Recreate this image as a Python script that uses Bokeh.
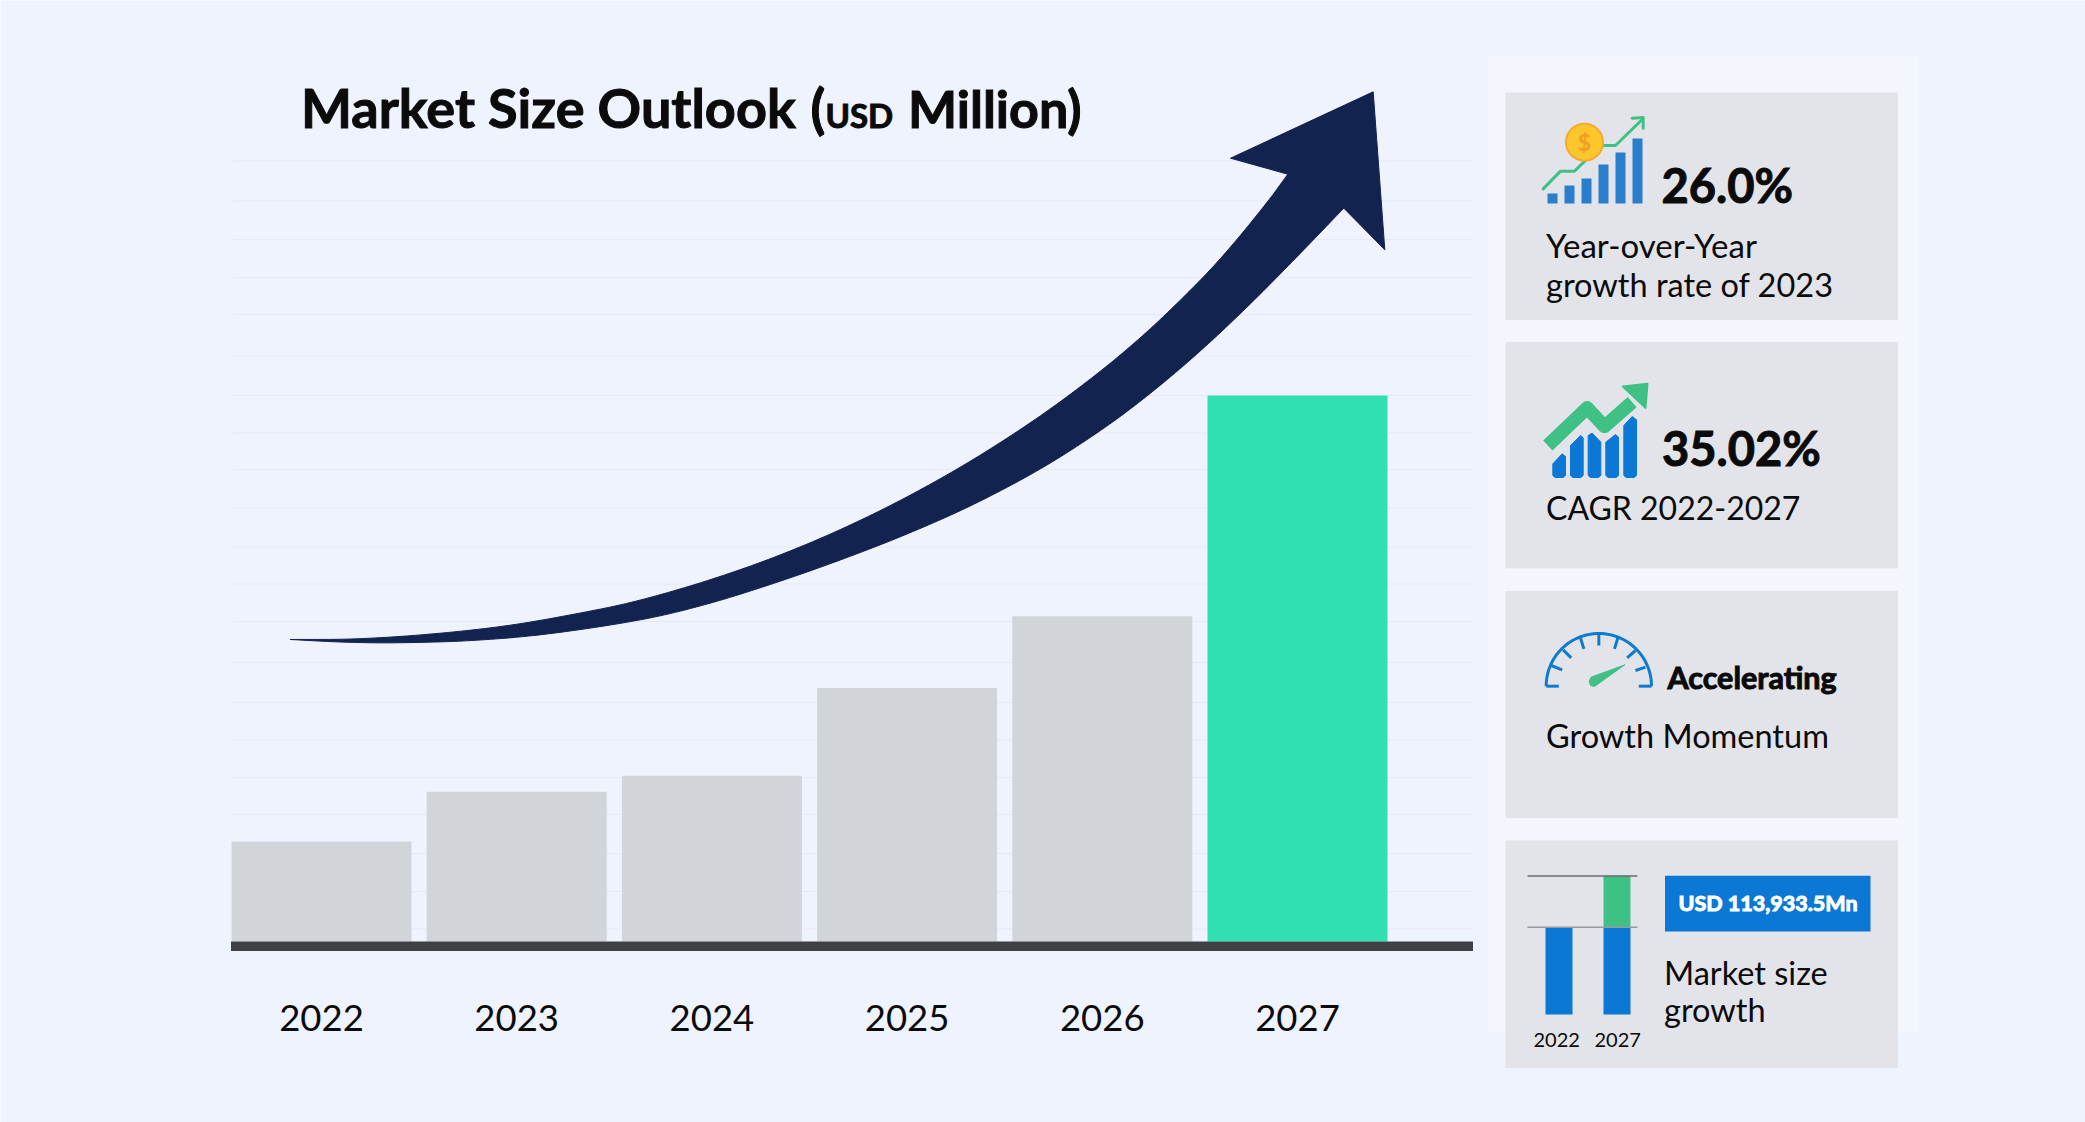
import numpy as np
from numpy.polynomial import Polynomial
from bokeh.plotting import figure
from bokeh.embed import file_html
from bokeh.resources import INLINE
from bokeh.core.properties import value
from bokeh.models import Range1d, LinearAxis, FixedTicker, BasicTickFormatter, Text

# ---- data ----
years = [2022, 2023, 2024, 2025, 2026, 2027]
market_size_usd_mn = [25546, 38270, 42350, 64760, 83100, 139480]
bar_colors = ["#d1d5da"] * 5 + ["#30e0b2"]
grid_rows = [160.5, 200.5, 239, 277, 314, 355.5, 395, 432.5, 469, 507.5, 546.5,
             583.5, 621, 662, 702, 739.5, 777, 814, 853, 891, 928.5]

# arrow outline
upper_x = [289.6, 356.5, 433, 509.6, 586, 640, 706.7, 773.3, 840, 906.7, 973.3, 1040, 1100, 1150, 1200, 1233.3, 1266.7, 1287.3]
upper_y = [639, 638.3, 633.3, 624.7, 611.3, 599.3, 580.7, 556.7, 528.3, 496.7, 458.3, 416.5, 370, 326.7, 280, 243.3, 201.7, 173.3]
lower_x = [1343.3, 1300, 1250, 1200, 1150, 1100, 1040, 973.3, 906.7, 840, 773.3, 706.7, 640, 548, 471.3, 394.8, 340, 289.6]
lower_y = [207.3, 253.3, 303.3, 350, 391.7, 430, 470, 503, 533, 559.3, 583.3, 603.3, 619.3, 633.3, 640, 642.3, 641.5, 639]
head_x = [1230, 1372.7, 1384.3]
head_y = [157.7, 91.3, 249.3]

W, H = 2085, 1122
BG, PANEL, CARD = "#eff3fe", "#f4f6fd", "#e2e4e9"
BLUE, GREEN = "#0a78d4", "#3fc084"
FONT = "Lato"
BASE_FIX = 0.365  # Bokeh's svg text sits below the requested baseline
HAS_OUTLINE = "text_outline_color" in Text.properties()

# one frame covering the whole canvas; default ranges are reference pixels
p = figure(width=W, height=H, output_backend="svg", toolbar_location=None,
           x_range=Range1d(0, W), y_range=Range1d(H, 0),
           min_border=0, background_fill_color=BG, border_fill_color=BG,
           outline_line_color=None)
p.xaxis.visible = False
p.yaxis.visible = False
p.xgrid.visible = False
p.ygrid.visible = False

# data scales of the main chart
PX_PER_YEAR, X_2027 = 195.2, 1297
USD_PER_PX, Y_ZERO = 255.46, 941
p.extra_x_ranges["years"] = Range1d(2027 - X_2027 / PX_PER_YEAR, 2027 + (W - X_2027) / PX_PER_YEAR)
p.extra_y_ranges["usd"] = Range1d((Y_ZERO - H) * USD_PER_PX, Y_ZERO * USD_PER_PX)


def rect(x0, x1, y0, y1, color):
    p.quad(left=[x0], right=[x1], top=[y0], bottom=[y1], fill_color=color, line_color=None)


def txt(x, y, s, size, weight="normal", color="#0b0b0b", font=FONT):
    extra = {"text_outline_color": color} if (HAS_OUTLINE and weight == "bold") else {}
    p.text(x=[x], y=[y - BASE_FIX * size], text=[s], text_font=value(font), text_font_size=value(f"{size}px"),
           text_font_style=weight, text_color=color, text_align="left", text_baseline="alphabetic", **extra)


def edge(xs, ys, n=12):
    """Arrow edge: the long part evened out to remove reading noise, then a Catmull-Rom outline."""
    xs, ys = np.asarray(xs, float), np.asarray(ys, float)
    long_part = xs >= 620
    ys = ys.copy()
    ys[long_part] = Polynomial.fit(xs[long_part], ys[long_part], 5)(xs[long_part])
    P = np.column_stack([xs, ys])
    P = np.vstack([2 * P[0] - P[1], P, 2 * P[-1] - P[-2]])
    out = []
    for i in range(1, len(P) - 2):
        p0, p1, p2, p3 = P[i - 1], P[i], P[i + 1], P[i + 2]
        for t in np.linspace(0, 1, n, endpoint=False):
            out.append(0.5 * (2 * p1 + (p2 - p0) * t + (2 * p0 - 5 * p1 + 4 * p2 - p3) * t ** 2
                              + (3 * p1 - p0 - 3 * p2 + p3) * t ** 3))
    out.append(P[-2])
    out = np.array(out)
    return list(out[:, 0]), list(out[:, 1])


# grid, bars, baseline
p.segment(x0=[232] * len(grid_rows), x1=[1473] * len(grid_rows), y0=grid_rows, y1=grid_rows,
          line_color="#e5e9f4", line_width=1)
p.vbar(x=years, top=market_size_usd_mn, bottom=0, width=180 / PX_PER_YEAR, fill_color=bar_colors,
       line_color=None, x_range_name="years", y_range_name="usd")
rect(230.5, 1472.5, 941, 950.5, "#3f4046")

axis = LinearAxis(x_range_name="years", fixed_location=988, ticker=FixedTicker(ticks=years),
                  formatter=BasicTickFormatter(use_scientific=False),
                  axis_line_color=None, major_tick_line_color=None, minor_tick_line_color=None,
                  major_label_text_font=FONT, major_label_text_font_size="36.5px",
                  major_label_text_color="#0b0b0b", major_label_standoff=10)
p.add_layout(axis, "below")

# arrow
ux, uy = edge(upper_x, upper_y)
lx, ly = edge(lower_x, lower_y)
p.patch(ux + head_x + lx, uy + head_y + ly, fill_color="#13234f", line_color="#13234f", line_width=1, line_join="round")

# title
txt(300.5, 126.5, "Market Size Outlook", 54, "bold")
txt(810, 126.5, "(", 54, "bold")
txt(825, 126.5, "USD", 33, "bold")
txt(907.5, 126.5, "Million)", 52, "bold")

# side panel and cards
rect(1487, 1917, 55, 1032, PANEL)
for y0, y1 in [(92, 319.5), (341.5, 568), (590.5, 817.5), (840, 1067.5)]:
    rect(1505, 1897.5, y0, y1, CARD)

# card 1 icon
def ix(v): return [1530 + a / 3 for a in v]
def iy1(v): return [105 + a / 3 for a in v]
lefts = [51, 102, 153, 204, 255, 306]
tops = [264, 240, 219, 177, 141, 99]
p.quad(left=ix(lefts), right=ix([a + 30 for a in lefts]), top=iy1(tops), bottom=iy1([294] * 6),
       fill_color="#2a7fcc", line_color=None)
p.line(ix([38, 90, 132, 165, 218, 255, 335]), iy1([250, 197, 197, 165, 120, 120, 42]),
       line_color=GREEN, line_width=3, line_join="round", line_cap="round")
p.line(ix([305, 338, 338]), iy1([38, 36, 68]), line_color=GREEN, line_width=3, line_join="round", line_cap="round")
p.scatter([1530 + 162 / 3], [105 + 110 / 3], size=37, marker="circle", fill_color="#fcc62d",
          line_color="#f6a92b", line_width=2)
p.text(x=[1530 + 162 / 3], y=[105 + 110 / 3], text=["$"], text_font=value(FONT), text_font_size=value("23px"),
       text_color="#f39c24", text_align="center", text_baseline="middle", text_font_style="bold")
txt(1661, 202, "26.0%", 47, "bold")
txt(1545.5, 257, "Year-over-Year", 33)
txt(1545.5, 296, "growth rate of 2023", 32.5)

# card 2 icon
def iy2(v): return [370 + a / 3 for a in v]
bars2x = [[67, 67, 95, 105, 105, 98, 74], [120, 120, 150, 158, 158, 151, 127], [173, 173, 185, 211, 211, 204, 180],
          [226, 226, 255, 264, 264, 257, 233], [280, 280, 305, 318, 318, 311, 287]]
bars2y = [[315, 280, 250, 258, 315, 321, 321], [315, 225, 195, 202, 315, 321, 321], [315, 195, 188, 215, 315, 321, 321],
          [315, 215, 192, 200, 315, 321, 321], [315, 165, 138, 148, 315, 321, 321]]
p.patches([ix(a) for a in bars2x], [iy2(a) for a in bars2y], fill_color=BLUE, line_color=BLUE, line_width=1)
p.line(ix([52, 170, 222, 305]), iy2([225, 112, 168, 95]), line_color=GREEN, line_width=13.5, line_join="round")
p.patch(ix([277, 351, 345]), iy2([48, 40, 112]), fill_color=GREEN, line_color=GREEN, line_width=2, line_join="round")
txt(1661.5, 465, "35.02%", 47, "bold")
txt(1545.5, 519, "CAGR 2022-2027", 32)

# card 3 icon
def iy3(v): return [620 + a / 3 for a in v]
th = np.linspace(np.pi, 0, 61)
gauge_x = [1530 + (205 + 158 * np.cos(t)) / 3 for t in th]
gauge_y = [620 + (197 - 158 * np.sin(t)) / 3 for t in th]
p.line(gauge_x, gauge_y, line_color="#0f7bcd", line_width=3)
tick_x0 = [47, 62, 98, 150, 205, 262, 315, 345, 325]
tick_y0 = [197, 135, 88, 52, 40, 52, 90, 140, 197]
tick_x1 = [85, 95, 122, 160, 205, 252, 290, 315, 363]
tick_y1 = [197, 148, 112, 85, 75, 85, 112, 150, 197]
p.segment(ix(tick_x0), iy3(tick_y0), ix(tick_x1), iy3(tick_y1), line_color="#0f7bcd", line_width=3)
p.patch(ix([283, 182, 176, 180, 192]), iy3([133, 170, 182, 195, 198]), fill_color=GREEN, line_color=GREEN, line_width=1)
txt(1667, 688, "Accelerating", 30.5, "bold")
txt(1545.5, 747, "Growth Momentum", 32.5)

# card 4 mini chart
rect(1545, 1572, 926.7, 1014, BLUE)
rect(1603, 1630, 926.7, 1014, BLUE)
rect(1603, 1630, 875.3, 926.7, GREEN)
p.segment([1527, 1527], [875.5, 926.7], [1637, 1637], [875.5, 926.7], line_color=["#6b6d72", "#97999e"], line_width=1.5)
txt(1533, 1046.5, "2022", 20)
txt(1594, 1046.5, "2027", 20)
rect(1664.5, 1870, 875.3, 931, BLUE)
txt(1678, 910.5, "USD 113,933.5Mn", 21.5, "bold", "#ffffff")
txt(1663.5, 983.5, "Market size", 32.5)
txt(1663.5, 1021, "growth", 32.5)

open("out.html", "w").write(file_html(p, INLINE))
